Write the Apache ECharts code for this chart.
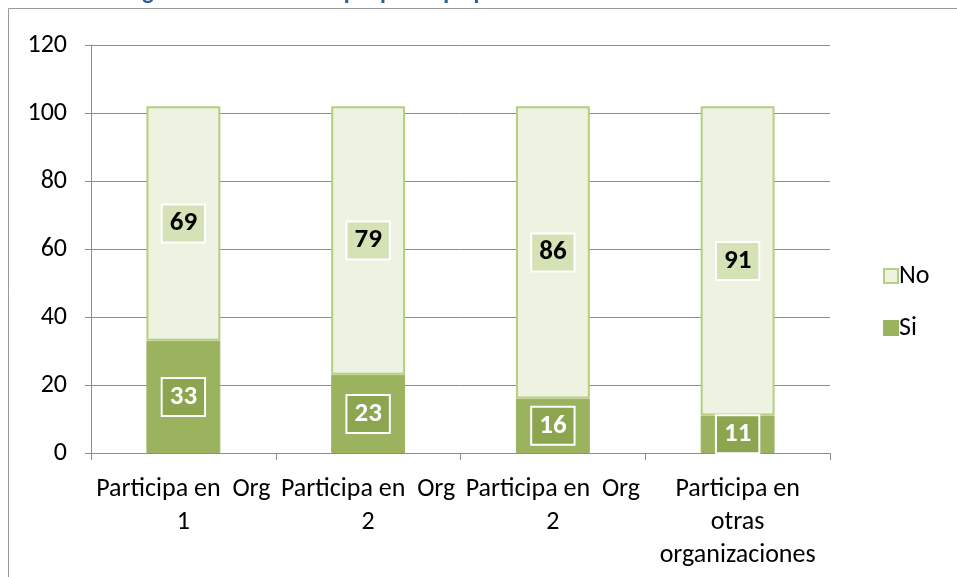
<!DOCTYPE html>
<html>
<head>
<meta charset="utf-8">
<script src="https://cdn.jsdelivr.net/npm/echarts@6/dist/echarts.min.js"></script>
<style>
  html, body { margin: 0; padding: 0; background: #fff; }
  #chart { width: 957px; height: 577px; }
</style>
</head>
<body>
<div id="chart"></div>
<script>
  // categorias y valores
  const categorias = ['Participa en  Org\n1', 'Participa en  Org\n2', 'Participa en  Org\n2', 'Participa en\notras\norganizaciones'];
  const valoresSi = [33, 23, 16, 11];
  const valoresNo = [69, 79, 86, 91];
  const ticksY = [0, 20, 40, 60, 80, 100, 120];

  const fuente = "Carlito, 'Liberation Sans Narrow', 'Open Sans', sans-serif";

  const chart = echarts.init(document.getElementById('chart'));
  const option = {
    animation: false,
    textStyle: { fontFamily: fuente },
    title: {
      text: 'Gráfico 14. Organizaciones en las que participa para estar en la Mutual 2008',
      left: 0,
      top: -24,
      textStyle: { color: '#2E5D92', fontSize: 24, fontWeight: 'bold', fontFamily: fuente }
    },
    graphic: [{
      type: 'rect',
      shape: { x: 8.5, y: 8.5, width: 960, height: 580 },
      style: { fill: 'none', stroke: '#9a9a9a', lineWidth: 1 },
      z: -1
    }],
    legend: {
      orient: 'vertical',
      left: 878,
      top: 258,
      itemGap: 26,
      itemWidth: 14,
      itemHeight: 14,
      icon: 'rect',
      data: ['No', 'Si'],
      textStyle: { fontSize: 26, color: '#000', fontFamily: fuente, padding: [0, 0, 0, -4] }
    },
    grid: { left: 91, right: 127, top: 45, bottom: 124 },
    xAxis: {
      type: 'category',
      data: categorias,
      axisLine: { lineStyle: { color: '#8c8c8c' } },
      axisTick: { show: true, length: 7, lineStyle: { color: '#8c8c8c' } },
      axisLabel: { color: '#000', fontSize: 26, lineHeight: 33, margin: 20, interval: 0, fontFamily: fuente }
    },
    yAxis: {
      type: 'value',
      min: 0,
      max: 120,
      interval: 20,
      axisLine: { show: true, lineStyle: { color: '#8c8c8c' } },
      axisTick: { show: true, length: 6, lineStyle: { color: '#8c8c8c' } },
      axisLabel: { color: '#000', fontSize: 26, margin: 24, fontFamily: fuente,
        formatter: v => ticksY.includes(v) ? String(v) : '' },
      splitLine: { lineStyle: { color: '#8c8c8c' } }
    },
    series: [
      {
        name: 'Si',
        type: 'bar',
        stack: 'total',
        barWidth: '40%',
        data: valoresSi,
        itemStyle: { color: '#9BB35F', borderColor: '#9BB35F', borderWidth: 1 },
        label: {
          show: true,
          position: 'inside',
          color: '#fff',
          fontSize: 27,
          fontWeight: 'bold',
          fontFamily: fuente,
          backgroundColor: '#8BA64E',
          borderColor: '#fff',
          borderWidth: 2,
          padding: [6, 7, 3, 7]
        }
      },
      {
        name: 'No',
        type: 'bar',
        stack: 'total',
        data: valoresNo,
        itemStyle: { color: '#EDF2E1', borderColor: '#B5CF80', borderWidth: 2 },
        label: {
          show: true,
          position: 'inside',
          color: '#000',
          fontSize: 27,
          fontWeight: 'bold',
          fontFamily: fuente,
          backgroundColor: '#D4E2B6',
          borderColor: '#fff',
          borderWidth: 2,
          padding: [6, 7, 3, 7]
        }
      }
    ]
  };
  chart.setOption(option);
</script>
</body>
</html>
